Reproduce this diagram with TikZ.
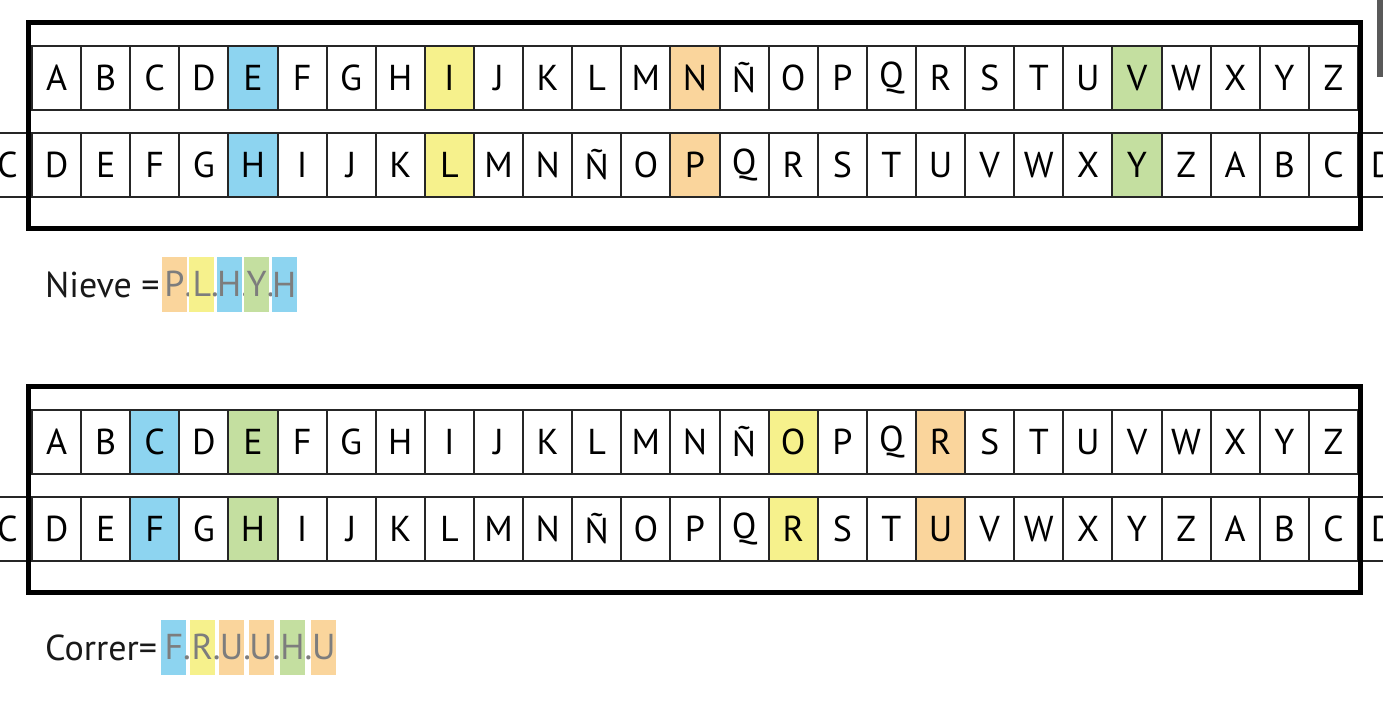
\documentclass[tikz,border=0pt]{standalone}
\usepackage{fontspec}
\setmainfont{PT Sans}
\usepackage{tikz}
\usepackage{xcolor}
\usetikzlibrary{positioning}

\definecolor{hlblue}{RGB}{141,212,240}
\definecolor{hlyellow}{RGB}{246,241,140}
\definecolor{hlorange}{RGB}{250,213,156}
\definecolor{hlgreen}{RGB}{196,223,160}
\definecolor{keygray}{RGB}{125,125,125}

\tikzset{
  cell/.style={draw=black!85, line width=2pt, minimum width=49.11, minimum height=64, inner sep=0pt, font=\fontsize{36}{40}\selectfont},
  frame/.style={draw=black, line width=5.5pt},
  wordlabel/.style={inner sep=0pt, font=\fontsize{36}{40}\selectfont, text=black!90},
  keybox/.style={minimum width=25, minimum height=55, inner sep=0pt, text=keygray, font=\fontsize{36}{40}\selectfont}
}

\begin{document}
\begin{tikzpicture}[x=1pt,y=1pt,yscale=-1,xscale=1]
\useasboundingbox (0,0) rectangle (1383,703);
\clip (0,0) rectangle (1383,703);

%Shape: Cipher strips [id:panels]
\foreach \p/\oy in {1/0,2/364} {
  \foreach \l [count=\i from 0] in {A,B,C,D,E,F,G,H,I,J,K,L,M,N,Ñ,O,P,Q,R,S,T,U,V,W,X,Y,Z}
    \node[cell] (a\p-\i) at ({32+49.11*(\i+0.5)},{78+\oy}) {\l};
  \foreach \l [count=\i from -1] in {C,D,E,F,G,H,I,J,K,L,M,N,Ñ,O,P,Q,R,S,T,U,V,W,X,Y,Z,A,B,C,D}
    \node[cell] (b\p-\i) at ({32+49.11*(\i+0.5)},{165+\oy}) {\l};
  \draw[frame] (28.5,{22.5+\oy}) rectangle (1360.5,{228.5+\oy});
}

%Shape: Highlighted cells [id:marks]
\foreach \n/\c/\l in {a1-4/hlblue/E, a1-8/hlyellow/I, a1-13/hlorange/N, a1-22/hlgreen/V,
                       b1-4/hlblue/H, b1-8/hlyellow/L, b1-13/hlorange/P, b1-22/hlgreen/Y,
                       a2-2/hlblue/C, a2-4/hlgreen/E, a2-15/hlyellow/O, a2-18/hlorange/R,
                       b2-2/hlblue/F, b2-4/hlgreen/H, b2-15/hlyellow/R, b2-18/hlorange/U}
  \node[cell, fill=\c] at (\n) {\l};

% Text Node
\node[wordlabel, anchor=base west] (nieve) at (45,297) {Nieve =};
\node[keybox, fill=hlorange, right=2pt of nieve] (n1) {P\rlap{.}};
\node[keybox, fill=hlyellow, right=2pt of n1] (n2) {L\rlap{.}};
\node[keybox, fill=hlblue, right=2pt of n2] (n3) {H\rlap{.}};
\node[keybox, fill=hlgreen, right=2pt of n3] (n4) {Y\rlap{.}};
\node[keybox, fill=hlblue, right=2pt of n4] (n5) {H};

% Text Node
\node[wordlabel, anchor=base west] (correr) at (45,660) {Correr=};
\node[keybox, fill=hlblue, right=4pt of correr] (c1) {F\rlap{.}};
\node[keybox, fill=hlyellow, right=3pt of c1] (c2) {R\rlap{.}};
\node[keybox, fill=hlorange, right=4pt of c2] (c3) {U\rlap{.}};
\node[keybox, fill=hlorange, right=4pt of c3] (c4) {U\rlap{.}};
\node[keybox, fill=hlgreen, right=6pt of c4] (c5) {H\rlap{.}};
\node[keybox, fill=hlorange, right=6pt of c5] (c6) {U};

%Shape: Rectangle [id:edgebar]
\fill[black!65] (1377,0) rectangle (1383,77);
\end{tikzpicture}
\end{document}
